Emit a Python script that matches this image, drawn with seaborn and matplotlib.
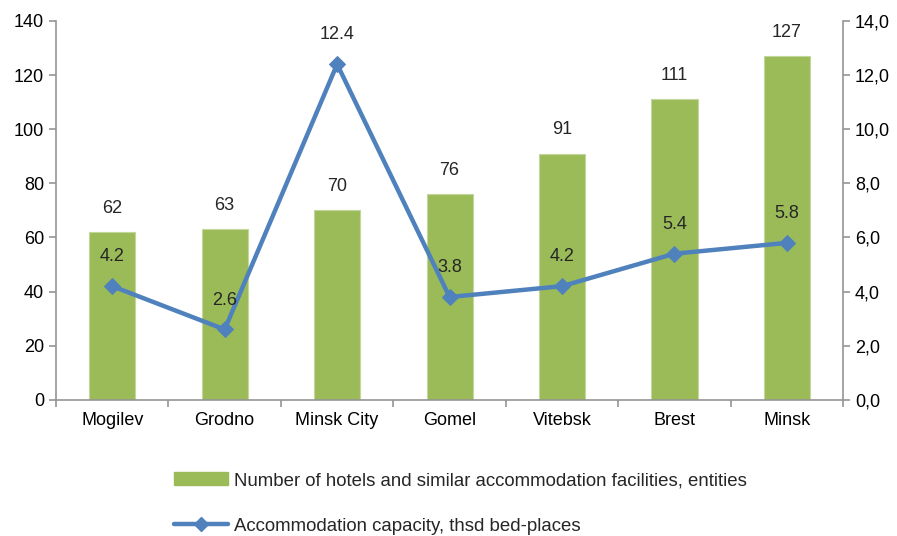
import matplotlib
matplotlib.use("Agg")
import matplotlib.pyplot as plt
import seaborn as sns
import pandas as pd
import numpy as np
from matplotlib.patches import Patch
from matplotlib.lines import Line2D

regions = ["Mogilev", "Grodno", "Minsk City", "Gomel", "Vitebsk", "Brest", "Minsk"]
hotels = [62, 63, 70, 76, 91, 111, 127]
capacity = [4.2, 2.6, 12.4, 3.8, 4.2, 5.4, 5.8]

bar_label = "Number of hotels and similar accommodation facilities, entities"
line_label = "Accommodation capacity, thsd bed-places"

sns.set_style("white")
plt.rcParams['font.family'] = ['Liberation Sans', 'DejaVu Sans']

green = "#9BBB59"
blue = "#4F81BD"
gray = "#959595"
fs = 13

df = pd.DataFrame({"region": regions, "hotels": hotels, "capacity": capacity})

fig = plt.figure(figsize=(8.97, 5.36), dpi=100)
ax = fig.add_axes([0.0624, 0.254, 0.8776, 0.707])

sns.barplot(data=df, x="region", y="hotels", color=green, width=0.41,
            saturation=1, edgecolor="#C3D69B", linewidth=0.8, ax=ax)
ax.set_ylim(0, 140)
ax.set_xlim(-0.5, 6.5)
ax.set_yticks(range(0, 141, 20))
ax.set_xticks(np.arange(-0.5, 6.6, 1), minor=True)
ax.set_xlabel("")
ax.set_ylabel("")

for i, v in enumerate(hotels):
    ax.annotate(str(v), (i, v), xytext=(0, 11), textcoords="offset points",
                ha="center", va="bottom", fontsize=fs)

ax2 = ax.twinx()
sns.lineplot(x=np.arange(len(regions)), y=capacity, color=blue, linewidth=3.2,
             marker="D", markersize=8, markeredgecolor=blue, ax=ax2)
ax2.set_ylim(0, 14)
ax2.set_xlim(-0.5, 6.5)
ax2.set_yticks(np.arange(0, 14.1, 2))
ax2.set_yticklabels([f"{t:.1f}".replace(".", ",") for t in np.arange(0, 14.1, 2)])

for i, v in enumerate(capacity):
    ax2.annotate(f"{v}", (i, v), xytext=(0, 15), textcoords="offset points",
                 ha="center", va="bottom", fontsize=fs)

for a in (ax, ax2):
    for s in a.spines.values():
        s.set_visible(False)
    a.tick_params(axis="both", labelsize=fs, colors="black")

ax.spines["left"].set_visible(True)
ax.spines["left"].set_color(gray)
ax.spines["left"].set_linewidth(1.2)
ax.spines["bottom"].set_visible(True)
ax.spines["bottom"].set_color(gray)
ax.spines["bottom"].set_linewidth(1.2)
ax2.spines["right"].set_visible(True)
ax2.spines["right"].set_color(gray)
ax2.spines["right"].set_linewidth(1.2)

ax.tick_params(axis="y", left=True, length=5, width=1.2, color=gray, direction="out")
ax.tick_params(axis="x", which="major", bottom=False, pad=5)
ax.tick_params(axis="x", which="minor", bottom=True, length=5, width=1.2,
               color=gray, direction="out")
ax2.tick_params(axis="y", right=True, length=5, width=1.2, color=gray, direction="out")

handles = [
    Patch(facecolor=green, edgecolor=green),
    Line2D([0], [0], color=blue, linewidth=3.2, marker="D", markersize=7),
]
fig.legend(handles, [bar_label, line_label], loc="center",
           bbox_to_anchor=(0.513, 0.061), frameon=False, fontsize=13.4,
           labelspacing=1.53, handlelength=2.9, handletextpad=0.3)

fig.savefig("out.png", dpi=100)
